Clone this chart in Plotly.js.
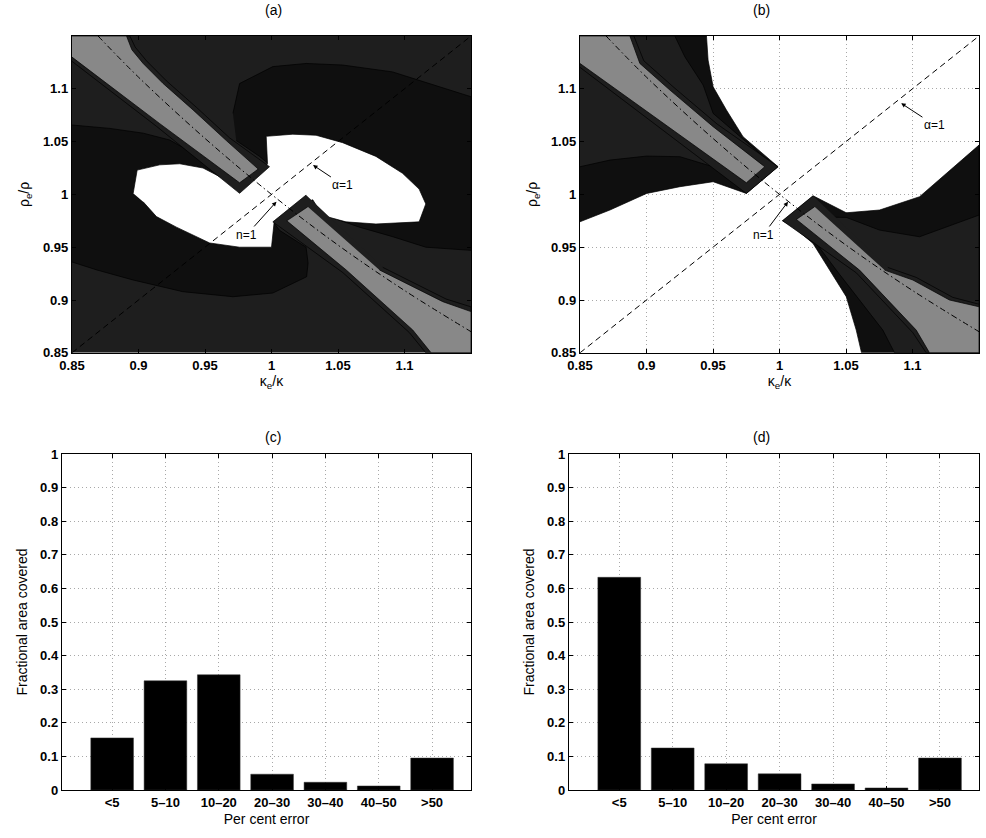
<!DOCTYPE html>
<html><head><meta charset="utf-8">
<script src="https://cdn.plot.ly/plotly-3.0.1.min.js"></script>
<style>html,body{margin:0;padding:0;background:#fff}#chart{width:986px;height:838px}</style>
</head><body><div id="chart"></div>
<script>
// ---------------- data ----------------
const categories = ['<5', '5\u201310', '10\u201320', '20\u201330', '30\u201340', '40\u201350', '>50'];
const fractionC = [0.155, 0.325, 0.343, 0.047, 0.023, 0.012, 0.095];
const fractionD = [0.633, 0.125, 0.078, 0.048, 0.018, 0.006, 0.095];

const contourTicks = [0.85, 0.9, 0.95, 1, 1.05, 1.1];
const contourTickText = ['0.85', '0.9', '0.95', '1', '1.05', '1.1'];
const barTicks = [0, 0.1, 0.2, 0.3, 0.4, 0.5, 0.6, 0.7, 0.8, 0.9, 1];
const barTickText = ['0', '0.1', '0.2', '0.3', '0.4', '0.5', '0.6', '0.7', '0.8', '0.9', '1'];

// alpha = 1 line (dashed) and n = 1 curve (dash-dot)
const diagX = [0.85, 1.15];
const diagY = [0.85, 1.15];
const curveX = [0.8696, 0.9, 0.95, 1, 1.05, 1.1, 1.15];
const curveY = [1.15, 1.111, 1.053, 1, 0.952, 0.909, 0.870];

// ---- panel (a) regions ----
const aBlobUpperX = [0.971, 0.976, 1.001, 1.026, 1.0535, 1.091, 1.111, 1.15, 1.15, 1.116, 1.091, 1.066, 1.041, 1.026, 1.0035, 0.991, 0.9735];
const aBlobUpperY = [1.0767, 1.105, 1.121, 1.124, 1.1225, 1.116, 1.108, 1.0925, 0.947, 0.950, 0.960, 0.969, 0.980, 0.998, 1.023, 1.036, 1.051];
const aBlobLowerX = [0.85, 0.8785, 0.9035, 0.9235, 0.941, 0.9585, 0.976, 0.991, 1.006, 1.026, 1.0275, 1.0272, 1.0264, 1.001, 0.971, 0.9333, 0.8958, 0.8688, 0.85];
const aBlobLowerY = [1.0657, 1.0625, 1.058, 1.0515, 1.039, 1.020, 1.004, 0.9915, 0.966, 0.950, 0.935, 0.9284, 0.922, 0.9066, 0.9031, 0.9079, 0.919, 0.9284, 0.936];
const aWhiteX = [0.896, 0.899, 0.916, 0.931, 0.9485, 0.966, 0.977, 0.9935, 0.997, 0.996, 1.016, 1.0335, 1.0535, 1.0785, 1.0985, 1.111, 1.116, 1.111, 1.0785, 1.056, 1.0385, 1.031, 1.016, 1.002, 1.0, 0.976, 0.9535, 0.9285, 0.9135, 0.9035];
const aWhiteY = [1.001, 1.023, 1.028, 1.029, 1.025, 1.0136, 1.004, 1.023, 1.029, 1.055, 1.057, 1.056, 1.049, 1.036, 1.020, 1.005, 0.991, 0.974, 0.972, 0.974, 0.980, 0.995, 0.985, 0.974, 0.950, 0.950, 0.954, 0.969, 0.979, 0.993];
const aRimUpperX = [0.85, 0.8935, 0.8975, 0.906, 0.921, 0.9435, 0.9685, 0.9985, 0.976, 0.9135, 0.85];
const aRimUpperY = [1.15, 1.15, 1.1395, 1.1265, 1.1075, 1.0825, 1.0535, 1.0262, 1.001, 1.0645, 1.126];
const aGreyUpperX = [0.85, 0.891, 0.895, 0.9035, 0.9185, 0.941, 0.966, 0.990, 0.976, 0.916, 0.85];
const aGreyUpperY = [1.15, 1.15, 1.137, 1.124, 1.105, 1.080, 1.051, 1.024, 1.011, 1.067, 1.130];
const aRimLowerX = [1.026, 1.001, 1.0537, 1.1037, 1.116, 1.15, 1.15, 1.1313, 1.0837];
const aRimLowerY = [0.9994, 0.974, 0.9259, 0.8691, 0.85, 0.85, 0.8935, 0.9009, 0.9309];
const aGreyLowerX = [1.0273, 1.0115, 1.0562, 1.1062, 1.12, 1.15, 1.15, 1.1288, 1.0812];
const aGreyLowerY = [0.9883, 0.975, 0.9284, 0.8716, 0.85, 0.85, 0.889, 0.8984, 0.9284];

// ---- panel (b) regions ----
const bOuterUpperX = [0.85, 0.9451, 0.9463, 0.9501, 0.9601, 0.9726, 0.9989, 0.9751, 0.9501, 0.9251, 0.9001, 0.8725, 0.85];
const bOuterUpperY = [1.15, 1.15, 1.1272, 1.1019, 1.0799, 1.0546, 1.0262, 1.0009, 1.012, 1.0073, 1.0009, 0.9852, 0.9741];
const bInnerUpperX = [0.85, 0.9213, 0.9288, 0.9426, 0.9501, 0.9739, 0.9851, 0.9751, 0.9501, 0.9251, 0.9001, 0.8725, 0.85];
const bInnerUpperY = [1.15, 1.15, 1.1304, 1.1035, 1.0767, 1.0515, 1.0388, 1.0041, 1.0262, 1.0357, 1.0363, 1.0325, 1.0262];
const bRimUpperX = [0.85, 0.8905, 0.898, 0.9206, 0.9531, 0.9989, 0.9751, 0.85];
const bRimUpperY = [1.15, 1.15, 1.1265, 1.1013, 1.0666, 1.0262, 1.0009, 1.1203];
const bGreyUpperX = [0.85, 0.8875, 0.895, 0.9176, 0.9501, 0.9889, 0.9751, 0.85];
const bGreyUpperY = [1.15, 1.15, 1.124, 1.0988, 1.0641, 1.0262, 1.011, 1.124];
const bOuterLowerX = [1.0252, 1.0502, 1.0752, 1.1053, 1.15, 1.15, 1.0617, 1.0577, 1.0502, 1.0377, 1.0252, 1.0102, 1.0022];
const bOuterLowerY = [0.9987, 0.9826, 0.9852, 0.9978, 1.0467, 0.85, 0.85, 0.8715, 0.9031, 0.9283, 0.9536, 0.9694, 0.9751];
const bInnerLowerX = [1.0102, 1.0502, 1.0752, 1.1053, 1.15, 1.15, 1.0865, 1.0777, 1.0427, 1.0277, 1.0102];
const bInnerLowerY = [0.9789, 0.9782, 0.9662, 0.9599, 0.9804, 0.85, 0.85, 0.8715, 0.9283, 0.9536, 0.9725];
const bRimLowerX = [1.0252, 1.0022, 1.0577, 1.1003, 1.1103, 1.15, 1.15, 1.1303, 1.1028, 1.0815];
const bRimLowerY = [0.9987, 0.9751, 0.9258, 0.869, 0.85, 0.85, 0.896, 0.9025, 0.9214, 0.9308];
const bGreyLowerX = [1.0264, 1.0127, 1.0602, 1.1028, 1.1128, 1.15, 1.15, 1.1278, 1.1003, 1.079];
const bGreyLowerY = [0.9883, 0.9763, 0.9283, 0.8715, 0.85, 0.85, 0.8936, 0.9, 0.9189, 0.9283];

// ---------------- styles ----------------
const FONT = 'Liberation Sans, Arial, Helvetica, sans-serif';
const C_DARK = '#1e1e1e';
const C_DARKER = '#0f0f0f';
const C_GREY = '#888888';
const bold = arr => arr.map(t => '<b>' + t + '</b>');

function region(x, y, color, xa, ya, lw) {
  return {type: 'scatter', mode: 'lines', x: x, y: y, fill: 'toself', fillcolor: color,
    line: {color: '#000', width: lw === undefined ? 0.7 : lw}, xaxis: xa, yaxis: ya, hoverinfo: 'skip'};
}
function refLines(xa, ya) {
  return [
    {type: 'scatter', mode: 'lines', x: diagX, y: diagY, xaxis: xa, yaxis: ya, hoverinfo: 'skip',
      line: {color: '#000', width: 1, dash: '6px,4px'}},
    {type: 'scatter', mode: 'lines', x: curveX, y: curveY, xaxis: xa, yaxis: ya, hoverinfo: 'skip',
      line: {shape: 'spline', color: '#000', width: 1, dash: '6px,3px,1.5px,3px'}}
  ];
}

const traces = [
  region(aBlobUpperX, aBlobUpperY, C_DARKER, 'x', 'y'),
  region(aBlobLowerX, aBlobLowerY, C_DARKER, 'x', 'y'),
  region(aWhiteX, aWhiteY, '#ffffff', 'x', 'y'),
  region(aRimUpperX, aRimUpperY, C_DARK, 'x', 'y'),
  region(aRimLowerX, aRimLowerY, C_DARK, 'x', 'y'),
  region(aGreyUpperX, aGreyUpperY, C_GREY, 'x', 'y'),
  region(aGreyLowerX, aGreyLowerY, C_GREY, 'x', 'y'),
  ...refLines('x', 'y'),
  region(bOuterUpperX, bOuterUpperY, C_DARKER, 'x2', 'y2'),
  region(bInnerUpperX, bInnerUpperY, C_DARK, 'x2', 'y2'),
  region(bOuterLowerX, bOuterLowerY, C_DARKER, 'x2', 'y2'),
  region(bInnerLowerX, bInnerLowerY, C_DARK, 'x2', 'y2'),
  region(bRimUpperX, bRimUpperY, C_DARK, 'x2', 'y2'),
  region(bRimLowerX, bRimLowerY, C_DARK, 'x2', 'y2'),
  region(bGreyUpperX, bGreyUpperY, C_GREY, 'x2', 'y2'),
  region(bGreyLowerX, bGreyLowerY, C_GREY, 'x2', 'y2'),
  ...refLines('x2', 'y2'),
  {type: 'bar', x: categories, y: fractionC, xaxis: 'x3', yaxis: 'y3', width: 0.8,
    marker: {color: '#000', line: {color: '#333', width: 0.5}}, hoverinfo: 'skip'},
  {type: 'bar', x: categories, y: fractionD, xaxis: 'x4', yaxis: 'y4', width: 0.8,
    marker: {color: '#000', line: {color: '#333', width: 0.5}}, hoverinfo: 'skip'}
];

const tickFont = {family: FONT, size: 13, color: '#000', weight: 'bold'};
const titleFont = {family: FONT, size: 14, color: '#000'};
function axisBase(extra) {
  return Object.assign({
    showline: true, linecolor: '#000', linewidth: 1.2, mirror: 'ticks',
    ticks: 'inside', ticklen: 4, tickcolor: '#000', tickwidth: 1,
    zeroline: false, tickfont: tickFont, fixedrange: true,
    showgrid: true, gridcolor: '#a8a8a8', griddash: '1px,3px', gridwidth: 1
  }, extra);
}

const W = 986, H = 838;
const topDom = [1 - 352.8 / H, 1 - 36 / H];
const botDom = [1 - 790 / H, 1 - 454 / H];

const layout = {
  width: W, height: H, margin: {l: 0, r: 0, t: 0, b: 0},
  paper_bgcolor: '#fff', plot_bgcolor: '#fff', showlegend: false,
  font: {family: FONT, color: '#000'},
  shapes: [
    {type: 'rect', xref: 'x', yref: 'y', x0: 0.85, x1: 1.15, y0: 0.85, y1: 1.15,
      fillcolor: C_DARK, line: {width: 0}, layer: 'below'}
  ],
  xaxis: axisBase({domain: [72 / W, 471 / W], range: [0.85, 1.15], anchor: 'y', showgrid: false,
    tickvals: contourTicks, ticktext: bold(contourTickText),
    title: {text: '\u03ba<sub>e</sub>/\u03ba', font: titleFont, standoff: 4}}),
  yaxis: axisBase({domain: topDom, range: [0.85, 1.15], anchor: 'x', showgrid: false,
    tickvals: contourTicks, ticktext: bold(contourTickText),
    title: {text: '\u03c1<sub>e</sub>/\u03c1', font: titleFont, standoff: 10}}),
  xaxis2: axisBase({domain: [580 / W, 979 / W], range: [0.85, 1.15], anchor: 'y2',
    tickvals: contourTicks, ticktext: bold(contourTickText),
    title: {text: '\u03ba<sub>e</sub>/\u03ba', font: titleFont, standoff: 4}}),
  yaxis2: axisBase({domain: topDom, range: [0.85, 1.15], anchor: 'x2',
    tickvals: contourTicks, ticktext: bold(contourTickText),
    title: {text: '\u03c1<sub>e</sub>/\u03c1', font: titleFont, standoff: 10}}),
  xaxis3: axisBase({domain: [62 / W, 471 / W], type: 'category', range: [-0.94, 6.73], anchor: 'y3',
    tickvals: categories, ticktext: bold(categories),
    title: {text: 'Per cent error', font: titleFont, standoff: 5}}),
  yaxis3: axisBase({domain: botDom, range: [0, 1], anchor: 'x3',
    tickvals: barTicks, ticktext: bold(barTickText),
    title: {text: 'Fractional area covered', font: titleFont, standoff: 9}}),
  xaxis4: axisBase({domain: [569 / W, 979 / W], type: 'category', range: [-0.94, 6.73], anchor: 'y4',
    tickvals: categories, ticktext: bold(categories),
    title: {text: 'Per cent error', font: titleFont, standoff: 5}}),
  yaxis4: axisBase({domain: botDom, range: [0, 1], anchor: 'x4',
    tickvals: barTicks, ticktext: bold(barTickText),
    title: {text: 'Fractional area covered', font: titleFont, standoff: 9}}),
  annotations: [
    {xref: 'paper', yref: 'paper', x: 263 / W, y: 1 - 10 / H, text: '(a)', showarrow: false, font: titleFont, yanchor: 'middle'},
    {xref: 'paper', yref: 'paper', x: 772 / W, y: 1 - 10 / H, text: '(b)', showarrow: false, font: titleFont, yanchor: 'middle'},
    {xref: 'paper', yref: 'paper', x: 263 / W, y: 1 - 437 / H, text: '(c)', showarrow: false, font: titleFont, yanchor: 'middle'},
    {xref: 'paper', yref: 'paper', x: 772 / W, y: 1 - 437 / H, text: '(d)', showarrow: false, font: titleFont, yanchor: 'middle'},
    {xref: 'x', yref: 'y', x: 1.0312, y: 1.0278, axref: 'x', ayref: 'y', ax: 1.0537, ay: 1.0089,
      text: '\u03b1=1', showarrow: true, arrowhead: 2, arrowsize: 0.9, arrowwidth: 1, arrowcolor: '#000', font: {family: FONT, size: 12, color: '#000'}},
    {xref: 'x', yref: 'y', x: 1.0037, y: 0.9931, axref: 'x', ayref: 'y', ax: 0.9812, ay: 0.9616,
      text: 'n=1', showarrow: true, arrowhead: 2, arrowsize: 0.9, arrowwidth: 1, arrowcolor: '#000', font: {family: FONT, size: 12, color: '#000'}},
    {xref: 'x2', yref: 'y2', x: 1.0064, y: 0.9931, axref: 'x2', ayref: 'y2', ax: 0.9876, ay: 0.9616,
      text: 'n=1', showarrow: true, arrowhead: 2, arrowsize: 0.9, arrowwidth: 1, arrowcolor: '#000', font: {family: FONT, size: 12, color: '#000'}},
    {xref: 'x2', yref: 'y2', x: 1.0915, y: 1.0863, axref: 'x2', ayref: 'y2', ax: 1.1165, ay: 1.0657,
      text: '\u03b1=1', showarrow: true, arrowhead: 2, arrowsize: 0.9, arrowwidth: 1, arrowcolor: '#000', font: {family: FONT, size: 12, color: '#000'}}
  ]
};

Plotly.newPlot('chart', traces, layout, {staticPlot: true, displayModeBar: false});
</script>
</body></html>
